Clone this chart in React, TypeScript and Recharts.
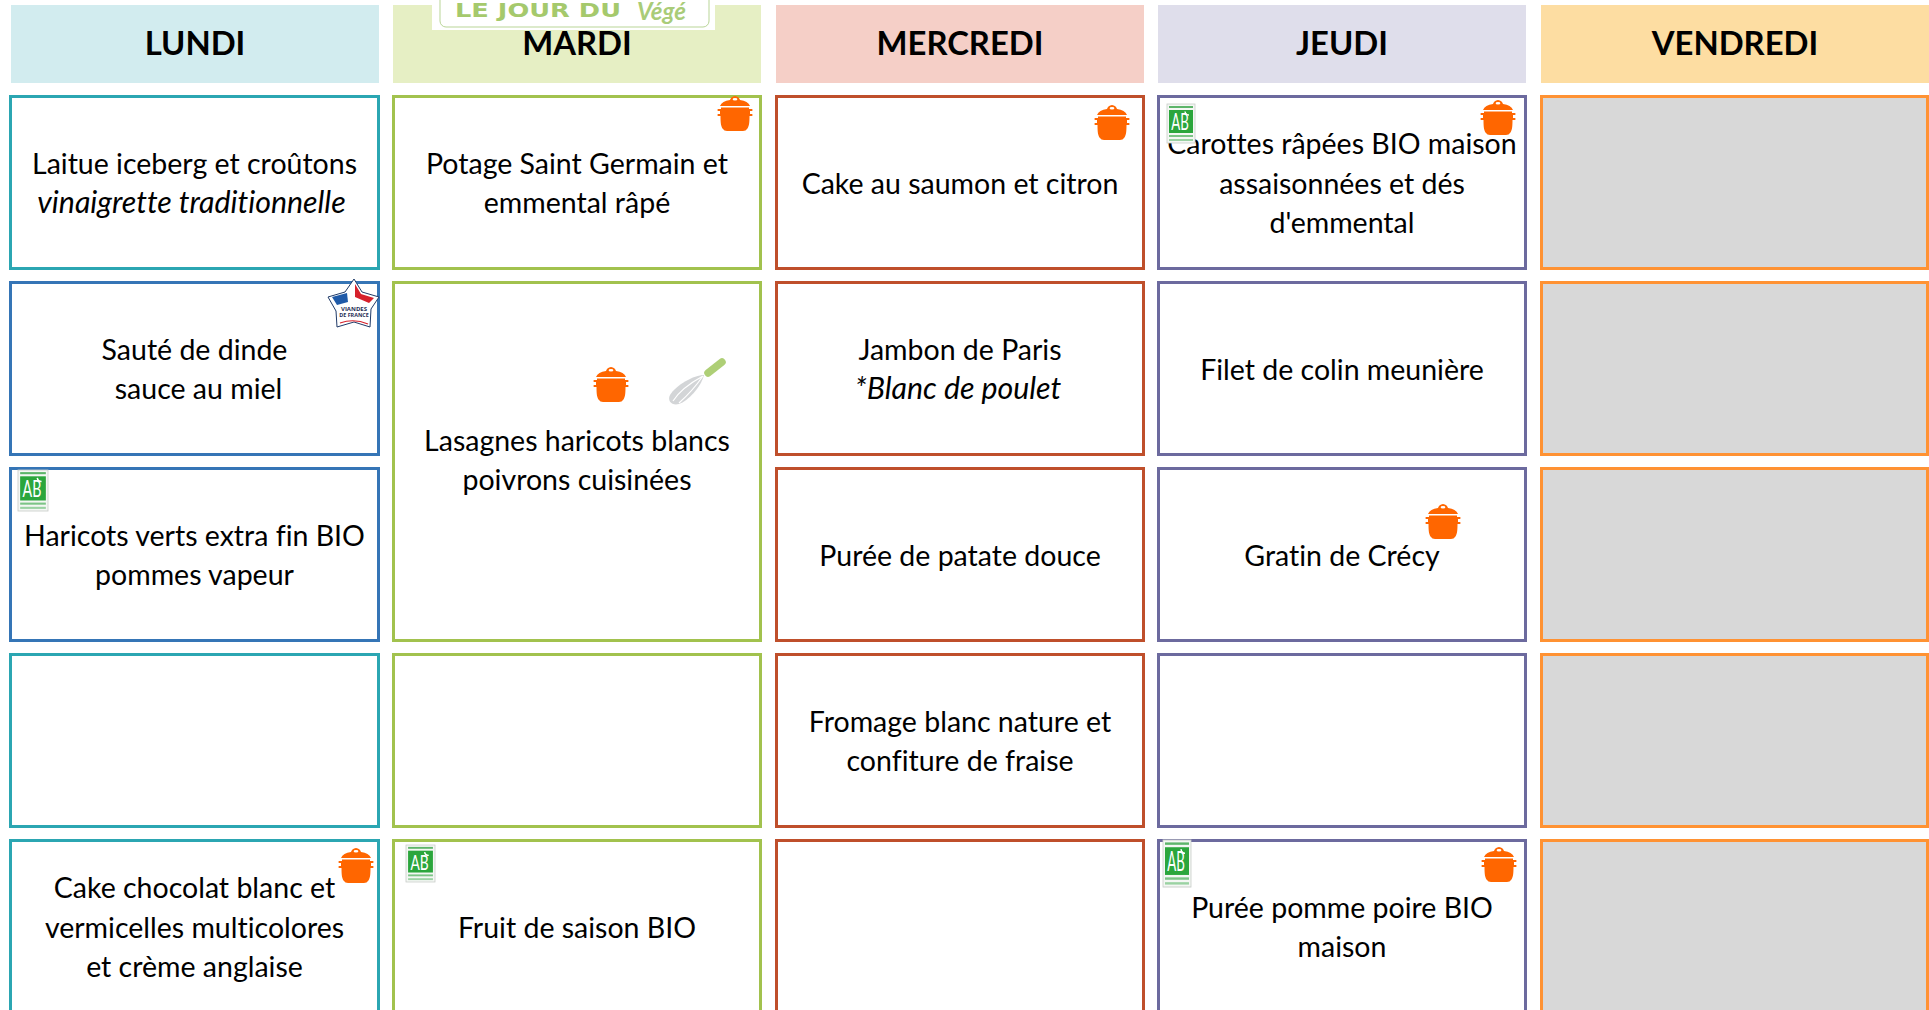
import React from "react";
import { BarChart, Bar, XAxis, YAxis } from "recharts";

const days = ["LUNDI", "MARDI", "MERCREDI", "JEUDI", "VENDREDI"];

// heights of the table bands, top to bottom, one value per day
const topGap = [5, 5, 5, 5, 5];
const headerBand = [78, 78, 78, 78, 78];
const gapA = [12, 12, 12, 12, 12];
const row1 = [175, 175, 175, 175, 175];
const gapB = [11, 11, 11, 11, 11];
const row2 = [175, 361, 175, 175, 175]; // mardi is a merged cell
const gapC = [11, 0, 11, 11, 11];
const row3 = [175, 0, 175, 175, 175];
const gapD = [11, 11, 11, 11, 11];
const row4 = [175, 175, 175, 175, 175];
const gapE = [11, 11, 11, 11, 11];
const row5 = [175, 175, 175, 175, 175];

const row1Text = [
    ["Laitue iceberg et croûtons", "/vinaigrette traditionnelle"],
    ["Potage Saint Germain et", "emmental râpé"],
    ["Cake au saumon et citron"],
    ["Carottes râpées BIO maison", "assaisonnées et dés", "d'emmental"],
    [],
];
const row2Text = [
    ["Sauté de dinde", "sauce au miel"],
    ["Lasagnes haricots blancs", "poivrons cuisinées"],
    ["Jambon de Paris", "/*Blanc de poulet"],
    ["Filet de colin meunière"],
    [],
];
const row3Text = [
    ["Haricots verts extra fin BIO", "pommes vapeur"],
    [],
    ["Purée de patate douce"],
    ["Gratin de Crécy"],
    [],
];
const row4Text = [[], [], ["Fromage blanc nature et", "confiture de fraise"], [], []];
const row5Text = [
    ["Cake chocolat blanc et", "vermicelles multicolores", "et crème anglaise"],
    ["Fruit de saison BIO"],
    [],
    ["Purée pomme poire BIO", "maison"],
    [],
];

const headerFills = ["#D2ECEF", "#E6EFC4", "#F5CFC7", "#DFDEEB", "#FDDDA2"];
const borderColors = ["#2BA6B2", "#A2C24E", "#BF4F2B", "#6C6A9E", "#FF9233"];
const row2Borders = ["#3575B6", "#A2C24E", "#BF4F2B", "#6C6A9E", "#FF9233"];

const cellWidths = [371, 370, 370, 370, 389];
const headerInsets = [2, 1, 1, 1, 1];
const headerWidths = [368, 368, 368, 368, 388];

// small shifts caused by stray spaces in the source document
const lineShift: Record<string, number> = {
    "/vinaigrette traditionnelle": -3,
    "sauce au miel": 4,
    "/*Blanc de poulet": -2,
};
const lineLift: Record<string, number> = {
    "Lasagnes haricots blancs": 2,
    "poivrons cuisinées": 2,
};

const FONT = "Lato, 'Open Sans', sans-serif";
const BODY_SIZE = 28.5;
const ITALIC_SIZE = 30.3;
const LINE = 39.6;
const LAST = days.length - 1;

const table = days.map((day, i) => ({
    day,
    topGap: topGap[i],
    header: headerBand[i],
    gapA: gapA[i],
    row1: row1[i],
    gapB: gapB[i],
    row2: row2[i],
    gapC: gapC[i],
    row3: row3[i],
    gapD: gapD[i],
    row4: row4[i],
    gapE: gapE[i],
    row5: row5[i],
}));

function HeaderCell(props: any) {
    const { x, y, height, index } = props;
    const top = Math.min(y, y + height);
    const h = Math.abs(height);
    const left = Math.round(x) + headerInsets[index];
    const w = headerWidths[index];
    return (
        <g>
            <rect x={left} y={top} width={w} height={h} fill={headerFills[index]} />
            <text x={left + w / 2} y={top + h / 2 + 11} textAnchor="middle" fontFamily={FONT} fontWeight={700} fontSize={32.8} fill="#000">
                {days[index]}
            </text>
        </g>
    );
}

function MenuCell(props: any) {
    const { x, y, height, index, lines, borders } = props;
    const top = Math.min(y, y + height);
    const h = Math.abs(height);
    if (h <= 0) return null;
    const left = Math.round(x);
    const w = cellWidths[index];
    const text: string[] = lines[index];
    const cx = left + w / 2;
    const cy = top + h / 2;
    return (
        <g>
            <rect
                x={left + 1.5}
                y={top + 1.5}
                width={w - 3}
                height={h - 3}
                fill={index === LAST ? "#D8D8D8" : "#fff"}
                stroke={borders[index]}
                strokeWidth={3}
            />
            {text.map((line, k) => {
                const italic = line.startsWith("/");
                return (
                    <text
                        key={line}
                        x={cx + (lineShift[line] || 0)}
                        y={cy + 11 - ((text.length - 1) * LINE) / 2 + k * LINE - (lineLift[line] || 0)}
                        textAnchor="middle"
                        fontFamily={FONT}
                        fontStyle={italic ? "italic" : "normal"}
                        fontSize={italic ? ITALIC_SIZE : BODY_SIZE}
                        fill="#000"
                        style={{ fontVariantLigatures: "none" }}
                    >
                        {italic ? line.slice(1) : line}
                    </text>
                );
            })}
        </g>
    );
}

function Pot({ x, y }: { x: number; y: number }) {
    return (
        <g transform={`translate(${x} ${y})`} fill="#FF6600">
            <path d="M3 10 Q5 5 13 4 Q14 .5 18 0 Q22 .5 23 4 Q31 5 33 10 Z" />
            <ellipse cx={18} cy={3.2} rx={2.4} ry={1.3} fill="#fff" />
            <path d="M4 11.5 H32 V13 H35 Q36.5 14 35 15 H33 V18 H35 Q36.5 19 35 20 H32.5 C32.5 27 32 31 30 33 Q29 35 26 35 H10 Q7 35 6 33 C4 31 3.5 27 3.5 20 H1 Q-.5 19 1 18 H3 V15 H1 Q-.5 14 1 13 H4 Z" />
        </g>
    );
}

function BioLogo({ x, y, w, h }: { x: number; y: number; w: number; h: number }) {
    return (
        <g transform={`translate(${x} ${y}) scale(${w / 28} ${h / 39})`}>
            <rect x={0} y={0} width={28} height={39} fill="#F4F7F4" stroke="#C9CDC9" strokeWidth={0.8} />
            <rect x={2} y={2} width={24} height={2} fill="#5DB56A" />
            <rect x={2} y={6} width={24} height={23} fill="#2BA63C" />
            <rect x={2} y={31} width={24} height={2} fill="#7CC486" />
            <rect x={2} y={35} width={24} height={2} fill="#9AD2A2" />
            <text transform="translate(13 26) scale(.78 1.3)" textAnchor="middle" fontFamily={FONT} fontSize={17} fill="#fff">
                AB
            </text>
            <path d="M18 7.5 Q18.5 11 22 11" fill="none" stroke="#fff" strokeWidth={1.4} />
        </g>
    );
}

function Whisk({ x, y }: { x: number; y: number }) {
    return (
        <g transform={`translate(${x} ${y})`}>
            <path d="M54 4 L40 15" stroke="#AECF76" strokeWidth={7.5} strokeLinecap="round" />
            <path d="M36 17 C26 17 8 27 2 37 C-1 43 4 48 11 46 C20 43 33 29 36 17 Z" fill="#D3D5D7" />
            <path d="M35 18 C24 24 12 32 5 43 M35 18 C28 28 20 37 11 45" fill="none" stroke="#fff" strokeWidth={1.2} />
        </g>
    );
}

function ViandesStar({ x, y }: { x: number; y: number }) {
    return (
        <g transform={`translate(${x} ${y})`}>
            <path d="M26 1 L34 14 L51 19 L43 31 L42 49 L26 44 L9 49 L8 33 L0 19 L17 14 Z" fill="#fff" stroke="#1F3A68" strokeWidth={1} />
            <path d="M4 19 L19 15 L20 24 L9 27 Z" fill="#1F5AA8" />
            <path d="M27 6 L33 16 L46 20 L41 25 L27 19 Z" fill="#D6202B" />
            <text x={26} y={33} textAnchor="middle" fontFamily="'Open Sans', sans-serif" fontWeight={700} fontSize={6} fill="#1F2E55">
                VIANDES
            </text>
            <text x={26} y={39} textAnchor="middle" fontFamily="'Open Sans', sans-serif" fontWeight={700} fontSize={5.4} fill="#1F2E55">
                DE FRANCE
            </text>
            <path d="M12 45 Q26 40 40 46" fill="none" stroke="#D6202B" strokeWidth={1.2} />
        </g>
    );
}

function VegeLogo() {
    return (
        <g>
            <rect x={432} y={-1} width={283} height={31} fill="#fff" />
            <rect x={440} y={-20} width={269} height={47} rx={6} fill="#fff" stroke="#B9D597" strokeWidth={1} />
            <text x={455} y={17} fontFamily="'DejaVu Sans', sans-serif" fontWeight={700} fontSize={19} textLength={166} lengthAdjust="spacingAndGlyphs" fill="#A5C96C">
                LE JOUR DU
            </text>
            <text x={637} y={20} fontFamily={FONT} fontStyle="italic" fontWeight={700} fontSize={24} fill="#A9CC78">
                Végé
            </text>
        </g>
    );
}

function Icons() {
    return (
        <svg width={1929} height={1010} style={{ position: "absolute", left: 0, top: 0 }}>
            <VegeLogo />
            <Pot x={717} y={96} />
            <Pot x={1094} y={105} />
            <Pot x={1480} y={100} />
            <Pot x={593} y={367} />
            <Pot x={1425} y={504} />
            <Pot x={338} y={848} />
            <Pot x={1481} y={847} />
            <Whisk x={668} y={358} />
            <ViandesStar x={328} y={278} />
            <BioLogo x={1167} y={104} w={28} h={39} />
            <BioLogo x={18} y={470} w={30} h={41} />
            <BioLogo x={406} y={845} w={29} h={37} />
            <BioLogo x={1163} y={840} w={28} h={47} />
        </svg>
    );
}

export default function App() {
    return (
        <div style={{ position: "absolute", left: 0, top: 0, width: 1929, height: 1010, overflow: "hidden", background: "#fff" }}>
            <BarChart
                width={1929}
                height={1014}
                data={table}
                barSize={370}
                margin={{ top: 0, right: 12, bottom: 0, left: 3 }}
            >
                <XAxis dataKey="day" hide />
                <YAxis hide type="number" reversed domain={[0, 1014]} />
                <Bar dataKey="topGap" stackId="t" fill="none" isAnimationActive={false} />
                <Bar dataKey="header" stackId="t" isAnimationActive={false} shape={(p: any) => <HeaderCell {...p} />} />
                <Bar dataKey="gapA" stackId="t" fill="none" isAnimationActive={false} />
                <Bar dataKey="row1" stackId="t" isAnimationActive={false} shape={(p: any) => <MenuCell {...p} lines={row1Text} borders={borderColors} />} />
                <Bar dataKey="gapB" stackId="t" fill="none" isAnimationActive={false} />
                <Bar dataKey="row2" stackId="t" isAnimationActive={false} shape={(p: any) => <MenuCell {...p} lines={row2Text} borders={row2Borders} />} />
                <Bar dataKey="gapC" stackId="t" fill="none" isAnimationActive={false} />
                <Bar dataKey="row3" stackId="t" isAnimationActive={false} shape={(p: any) => <MenuCell {...p} lines={row3Text} borders={row2Borders} />} />
                <Bar dataKey="gapD" stackId="t" fill="none" isAnimationActive={false} />
                <Bar dataKey="row4" stackId="t" isAnimationActive={false} shape={(p: any) => <MenuCell {...p} lines={row4Text} borders={borderColors} />} />
                <Bar dataKey="gapE" stackId="t" fill="none" isAnimationActive={false} />
                <Bar dataKey="row5" stackId="t" isAnimationActive={false} shape={(p: any) => <MenuCell {...p} lines={row5Text} borders={borderColors} />} />
            </BarChart>
            <Icons />
        </div>
    );
}
